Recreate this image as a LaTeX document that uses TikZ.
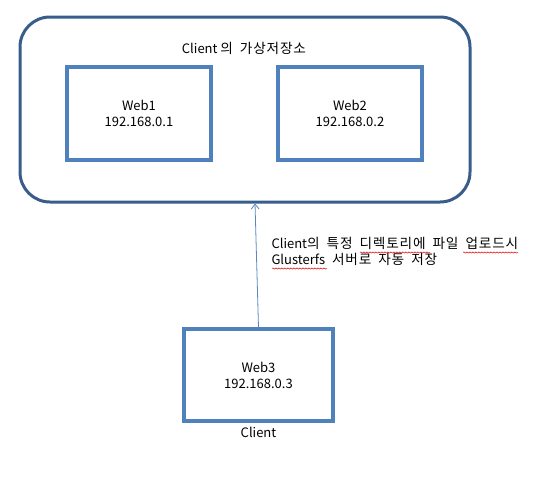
\documentclass[tikz,border=0pt]{standalone}
\usepackage{fontspec}
\setmainfont{Noto Sans CJK KR}
\newfontfamily\kr[Scale=1.05, LetterSpace=6, WordSpace=1.8]{Noto Sans CJK KR}
\usetikzlibrary{arrows.meta,positioning,decorations.pathmorphing}
\definecolor{outerblue}{HTML}{385D8A}
\definecolor{boxblue}{HTML}{4F81BD}
\definecolor{arrowblue}{HTML}{5B86BF}
\begin{document}
\begin{tikzpicture}[x=1pt, y=-1pt, >={Straight Barb[length=5pt,width=8pt]},
    font=\fontsize{13}{16}\selectfont,
    server/.style={draw=boxblue, line width=3.2pt, minimum width=144pt, minimum height=93pt, align=center},
    squiggle/.style={red!85!black, line width=0.5pt, decorate, decoration={snake, amplitude=0.6pt, segment length=3pt}}]
    \useasboundingbox (0,0) rectangle (545,479);
    \node[draw=outerblue, line width=3pt, rounded corners=30pt, minimum width=450pt, minimum height=185pt] (storage) at (245,109.5) {};
    \node (title) at (244,48) {Client {\kr 의 가상저장소}};
    \node[server] (web1) at (139,113.5) {Web1\\192.168.0.1};
    \node[server] (web2) at (350,113.5) {Web2\\192.168.0.2};
    \node[server, minimum width=149pt, minimum height=92pt] (web3) at (258.5,375) {Web3\\192.168.0.3};
    \node[below=1pt of web3] (client) {Client};
    \draw[->, arrowblue, line width=0.8pt] (web3.north) -- ([xshift=10pt]storage.south);
    \node[anchor=west, align=left] (note) at (268,251) {Client{\kr 의 특정 디렉토리에 파일 업로드시}\\Glusterfs{\kr{} 서버로 자동 저장}};
    \draw[squiggle] (360,252.5) -- (430,252.5);
    \draw[squiggle] (463,252.5) -- (518,252.5);
    \draw[squiggle] (272,268.5) -- (327,268.5);
\end{tikzpicture}
\end{document}
